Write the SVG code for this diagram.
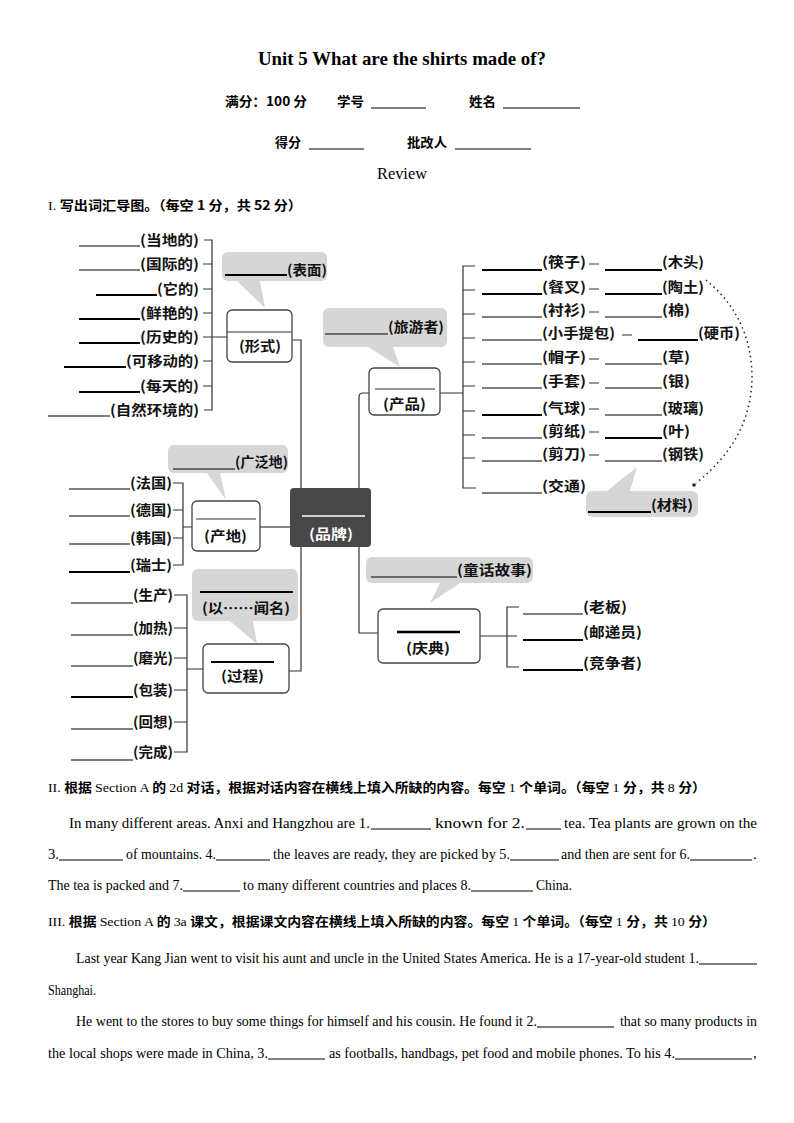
<svg xmlns="http://www.w3.org/2000/svg" width="794" height="1123" viewBox="0 0 794 1123">
<style>
.ser{font-family:"Liberation Serif","Noto Serif CJK SC",serif;font-weight:normal}
.cnb{font-family:"Noto Sans CJK SC","Liberation Sans",sans-serif;font-weight:bold}
.t{font-size:15px;fill:#000}
.h{font-size:13px;fill:#000}
.lb{font-family:"Noto Sans CJK SC","Liberation Sans",sans-serif;font-weight:bold;font-size:14px;fill:#111}
.ul{stroke:#000;stroke-width:1.2;fill:none}
.ulb{stroke:#000;stroke-width:1.8;fill:none}
.cn{stroke:#333;stroke-width:1.2;fill:none}
.box{fill:#fff;stroke:#444;stroke-width:1.3}
.bub{fill:#d6d6d6;stroke:none}
.dot{stroke:#222;stroke-width:1.5;fill:none;stroke-dasharray:1.5 3.5}
</style>

<g id="header">
<text x="258" y="65" class="ser" font-size="18" textLength="288" lengthAdjust="spacingAndGlyphs" style="font-weight:bold">Unit 5 What are the shirts made of?</text>
<text x="225" y="106" class="cnb h" textLength="82" lengthAdjust="spacingAndGlyphs">满分：100 分</text>
<text x="337" y="106" class="cnb h" textLength="27" lengthAdjust="spacingAndGlyphs">学号</text>
<line x1="371" y1="108" x2="426" y2="108" class="ul"/>
<text x="469" y="106" class="cnb h" textLength="27" lengthAdjust="spacingAndGlyphs">姓名</text>
<line x1="503" y1="108" x2="580" y2="108" class="ul"/>
<text x="275" y="147" class="cnb h" textLength="26" lengthAdjust="spacingAndGlyphs">得分</text>
<line x1="309" y1="149" x2="364" y2="149" class="ul"/>
<text x="407" y="147" class="cnb h" textLength="40" lengthAdjust="spacingAndGlyphs">批改人</text>
<line x1="455" y1="149" x2="531" y2="149" class="ul"/>
<text x="377" y="179" class="ser" font-size="16" textLength="50" lengthAdjust="spacingAndGlyphs">Review</text>
<text x="48" y="210" class="h" textLength="254" lengthAdjust="spacingAndGlyphs"><tspan class="ser">I. </tspan><tspan class="cnb">写出词汇导图。（每空 1 分，共 52 分）</tspan></text>
</g>

<g id="connectors">
<path class="cn" d="M204 240 H212 V410 H204"/>
<path class="cn" d="M203 264 H212 M203 289 H212 M203 313 H212 M203 337 H227 M203 361 H212 M203 386 H212"/>
<path class="cn" d="M292 340 H301 V489"/>
<path class="cn" d="M301 547 V671 H289"/>
<path class="cn" d="M359 489 V397 Q359 393 363 393 H369"/>
<path class="cn" d="M359 547 V633 H378"/>
<path class="cn" d="M260 527 H290"/>
<path class="cn" d="M173 483 H183 V565 H173 M173 510 H183 M173 538 H183 M183 527 H192"/>
<path class="cn" d="M174 595 H187 V752 H174 M174 628 H187 M174 658 H187 M174 690 H187 M174 722 H187 M187 669 H203"/>
<path class="cn" d="M440 393 H463 M475 266 H463 V488 H476 M463 290 H475 M463 314 H475 M463 338 H475 M463 362 H475 M463 386 H475 M463 411 H475 M463 435 H475 M463 458 H475"/>
<path class="cn" d="M589 264 H599 M589 289 H599 M589 312 H599 M622 335 H632 M589 359 H599 M589 383 H599 M589 409 H599 M589 432 H599 M589 455 H599"/>
<path class="cn" d="M480 636 H517 M519 607 H507 V667 H519"/>
<path class="dot" d="M706 280 Q752 318 752 378 Q751 440 696 483"/>
<circle cx="694" cy="485" r="1.8" fill="#222"/>
</g>

<g id="bubbles">
<g id="bub-biaomian">
<rect x="222" y="252" width="105" height="29" rx="6" class="bub"/>
<polygon points="237,281 260,281 265,308" class="bub"/>
<line x1="225" y1="275" x2="287" y2="275" class="ulb"/>
<text x="287" y="275" class="lb" textLength="40" lengthAdjust="spacingAndGlyphs">(表面)</text>
</g>
<g id="bub-lvyou">
<rect x="323" y="308" width="124" height="39" rx="6" class="bub"/>
<polygon points="368,347 393,347 400,367" class="bub"/>
<line x1="325" y1="334" x2="388" y2="334" class="ul"/>
<text x="388" y="332" class="lb" textLength="56" lengthAdjust="spacingAndGlyphs">(旅游者)</text>
</g>
<g id="bub-guangfan">
<rect x="168" y="445" width="120" height="28" rx="6" class="bub"/>
<polygon points="207,473 220,473 226,500" class="bub"/>
<line x1="173" y1="469" x2="235" y2="469" class="ul"/>
<text x="235" y="467" class="lb" textLength="53" lengthAdjust="spacingAndGlyphs">(广泛地)</text>
</g>
<g id="bub-wenming">
<rect x="192" y="569" width="106" height="52" rx="6" class="bub"/>
<polygon points="230,621 253,621 257,644" class="bub"/>
<line x1="200" y1="592" x2="293" y2="592" class="ulb"/>
<text x="202" y="613" class="lb" textLength="88" lengthAdjust="spacingAndGlyphs">(以……闻名)</text>
</g>
<g id="bub-tonghua">
<rect x="366" y="557" width="167" height="26" rx="6" class="bub"/>
<polygon points="440,583 460,583 430,603" class="bub"/>
<line x1="371" y1="577" x2="457" y2="577" class="ul"/>
<text x="457" y="575" class="lb" textLength="75" lengthAdjust="spacingAndGlyphs">(童话故事)</text>
</g>
<g id="bub-cailiao">
<rect x="586" y="491" width="112" height="26" rx="6" class="bub"/>
<polygon points="607,491 630,491 637,467" class="bub"/>
<line x1="588" y1="512" x2="651" y2="512" class="ulb"/>
<text x="651" y="510" class="lb" textLength="42" lengthAdjust="spacingAndGlyphs">(材料)</text>
</g>
</g>

<g id="node-xingshi">
<rect x="227" y="310" width="65" height="52" rx="5" class="box"/>
<line x1="227" y1="332" x2="292" y2="332" class="cn"/>
<text x="239" y="351" class="lb" textLength="42" lengthAdjust="spacingAndGlyphs">(形式)</text>
</g>
<g id="node-chanpin">
<rect x="369" y="368" width="71" height="47" rx="5" class="box"/>
<line x1="375" y1="389" x2="435" y2="389" class="cn"/>
<text x="383" y="409" class="lb" textLength="43" lengthAdjust="spacingAndGlyphs">(产品)</text>
</g>
<g id="node-pinpai">
<rect x="290" y="488" width="81" height="59" rx="4" fill="#474747"/>
<line x1="302" y1="516" x2="365" y2="516" stroke="#fff" stroke-width="1.3"/>
<text x="309" y="539" class="lb" style="fill:#fff" textLength="44" lengthAdjust="spacingAndGlyphs">(品牌)</text>
</g>
<g id="node-chandi">
<rect x="192" y="501" width="68" height="50" rx="5" class="box"/>
<line x1="196" y1="519" x2="256" y2="519" class="cn"/>
<text x="204" y="541" class="lb" textLength="43" lengthAdjust="spacingAndGlyphs">(产地)</text>
</g>
<g id="node-guocheng">
<rect x="203" y="644" width="86" height="49" rx="5" class="box"/>
<line x1="211" y1="662" x2="274" y2="662" stroke="#000" stroke-width="2"/>
<text x="221" y="681" class="lb" textLength="43" lengthAdjust="spacingAndGlyphs">(过程)</text>
</g>
<g id="node-qingdian">
<rect x="378" y="609" width="102" height="54" rx="5" class="box"/>
<line x1="397" y1="632" x2="460" y2="632" stroke="#000" stroke-width="2.5"/>
<text x="406" y="653" class="lb" textLength="44" lengthAdjust="spacingAndGlyphs">(庆典)</text>
</g>

<g id="list-adjectives">
<line x1="79" y1="246" x2="140" y2="246" class="ul"/><text x="140" y="245" class="lb" textLength="59" lengthAdjust="spacingAndGlyphs">(当地的)</text>
<line x1="79" y1="270" x2="140" y2="270" class="ul"/><text x="140" y="269" class="lb" textLength="59" lengthAdjust="spacingAndGlyphs">(国际的)</text>
<line x1="96" y1="295" x2="157" y2="295" class="ulb"/><text x="157" y="294" class="lb" textLength="42" lengthAdjust="spacingAndGlyphs">(它的)</text>
<line x1="79" y1="319" x2="140" y2="319" class="ulb"/><text x="140" y="318" class="lb" textLength="59" lengthAdjust="spacingAndGlyphs">(鲜艳的)</text>
<line x1="79" y1="343" x2="140" y2="343" class="ulb"/><text x="140" y="342" class="lb" textLength="59" lengthAdjust="spacingAndGlyphs">(历史的)</text>
<line x1="64" y1="367" x2="126" y2="367" class="ulb"/><text x="126" y="366" class="lb" textLength="73" lengthAdjust="spacingAndGlyphs">(可移动的)</text>
<line x1="79" y1="392" x2="140" y2="392" class="ulb"/><text x="140" y="391" class="lb" textLength="59" lengthAdjust="spacingAndGlyphs">(每天的)</text>
<line x1="48" y1="416" x2="110" y2="416" class="ul"/><text x="110" y="415" class="lb" textLength="89" lengthAdjust="spacingAndGlyphs">(自然环境的)</text>
</g>

<g id="list-countries">
<line x1="69" y1="489" x2="130" y2="489" class="ul"/><text x="130" y="488" class="lb" textLength="42" lengthAdjust="spacingAndGlyphs">(法国)</text>
<line x1="69" y1="516" x2="130" y2="516" class="ul"/><text x="130" y="515" class="lb" textLength="42" lengthAdjust="spacingAndGlyphs">(德国)</text>
<line x1="69" y1="544" x2="130" y2="544" class="ul"/><text x="130" y="543" class="lb" textLength="42" lengthAdjust="spacingAndGlyphs">(韩国)</text>
<line x1="69" y1="572" x2="130" y2="572" class="ulb"/><text x="130" y="570" class="lb" textLength="42" lengthAdjust="spacingAndGlyphs">(瑞士)</text>
</g>

<g id="list-process">
<line x1="71" y1="603" x2="133" y2="603" class="ul"/><text x="133" y="600" class="lb" textLength="40" lengthAdjust="spacingAndGlyphs">(生产)</text>
<line x1="71" y1="635" x2="133" y2="635" class="ul"/><text x="133" y="633" class="lb" textLength="40" lengthAdjust="spacingAndGlyphs">(加热)</text>
<line x1="71" y1="666" x2="133" y2="666" class="ul"/><text x="133" y="663" class="lb" textLength="40" lengthAdjust="spacingAndGlyphs">(磨光)</text>
<line x1="71" y1="697" x2="133" y2="697" class="ulb"/><text x="133" y="695" class="lb" textLength="40" lengthAdjust="spacingAndGlyphs">(包装)</text>
<line x1="71" y1="729" x2="133" y2="729" class="ul"/><text x="133" y="727" class="lb" textLength="40" lengthAdjust="spacingAndGlyphs">(回想)</text>
<line x1="71" y1="760" x2="133" y2="760" class="ul"/><text x="133" y="757" class="lb" textLength="40" lengthAdjust="spacingAndGlyphs">(完成)</text>
</g>

<g id="list-products">
<line x1="482" y1="270" x2="542" y2="270" class="ulb"/><text x="542" y="267" class="lb" textLength="44" lengthAdjust="spacingAndGlyphs">(筷子)</text>
<line x1="605" y1="270" x2="662" y2="270" class="ulb"/><text x="662" y="267" class="lb" textLength="42" lengthAdjust="spacingAndGlyphs">(木头)</text>
<line x1="482" y1="294" x2="542" y2="294" class="ulb"/><text x="542" y="292" class="lb" textLength="44" lengthAdjust="spacingAndGlyphs">(餐叉)</text>
<line x1="605" y1="294" x2="662" y2="294" class="ulb"/><text x="662" y="292" class="lb" textLength="42" lengthAdjust="spacingAndGlyphs">(陶土)</text>
<line x1="482" y1="317" x2="542" y2="317" class="ul"/><text x="542" y="315" class="lb" textLength="44" lengthAdjust="spacingAndGlyphs">(衬衫)</text>
<line x1="605" y1="317" x2="662" y2="317" class="ul"/><text x="662" y="315" class="lb" textLength="28" lengthAdjust="spacingAndGlyphs">(棉)</text>
<line x1="482" y1="340" x2="542" y2="340" class="ul"/><text x="542" y="338" class="lb" textLength="73" lengthAdjust="spacingAndGlyphs">(小手提包)</text>
<line x1="638" y1="340" x2="698" y2="340" class="ulb"/><text x="698" y="338" class="lb" textLength="42" lengthAdjust="spacingAndGlyphs">(硬币)</text>
<line x1="482" y1="364" x2="542" y2="364" class="ul"/><text x="542" y="362" class="lb" textLength="44" lengthAdjust="spacingAndGlyphs">(帽子)</text>
<line x1="605" y1="364" x2="662" y2="364" class="ul"/><text x="662" y="362" class="lb" textLength="28" lengthAdjust="spacingAndGlyphs">(草)</text>
<line x1="482" y1="388" x2="542" y2="388" class="ul"/><text x="542" y="386" class="lb" textLength="44" lengthAdjust="spacingAndGlyphs">(手套)</text>
<line x1="605" y1="388" x2="662" y2="388" class="ul"/><text x="662" y="386" class="lb" textLength="28" lengthAdjust="spacingAndGlyphs">(银)</text>
<line x1="482" y1="415" x2="542" y2="415" class="ulb"/><text x="542" y="413" class="lb" textLength="44" lengthAdjust="spacingAndGlyphs">(气球)</text>
<line x1="605" y1="415" x2="662" y2="415" class="ul"/><text x="662" y="413" class="lb" textLength="42" lengthAdjust="spacingAndGlyphs">(玻璃)</text>
<line x1="482" y1="438" x2="542" y2="438" class="ul"/><text x="542" y="436" class="lb" textLength="44" lengthAdjust="spacingAndGlyphs">(剪纸)</text>
<line x1="605" y1="438" x2="662" y2="438" class="ulb"/><text x="662" y="436" class="lb" textLength="28" lengthAdjust="spacingAndGlyphs">(叶)</text>
<line x1="482" y1="461" x2="542" y2="461" class="ul"/><text x="542" y="459" class="lb" textLength="44" lengthAdjust="spacingAndGlyphs">(剪刀)</text>
<line x1="605" y1="461" x2="662" y2="461" class="ul"/><text x="662" y="459" class="lb" textLength="42" lengthAdjust="spacingAndGlyphs">(钢铁)</text>
<line x1="482" y1="493" x2="542" y2="493" class="ul"/><text x="542" y="491" class="lb" textLength="44" lengthAdjust="spacingAndGlyphs">(交通)</text>
</g>

<g id="list-people">
<line x1="523" y1="614" x2="583" y2="614" class="ul"/><text x="583" y="612" class="lb" textLength="44" lengthAdjust="spacingAndGlyphs">(老板)</text>
<line x1="523" y1="640" x2="583" y2="640" class="ulb"/><text x="583" y="637" class="lb" textLength="59" lengthAdjust="spacingAndGlyphs">(邮递员)</text>
<line x1="523" y1="670" x2="583" y2="670" class="ulb"/><text x="583" y="668" class="lb" textLength="59" lengthAdjust="spacingAndGlyphs">(竞争者)</text>
</g>

<g id="section2">
<text x="48" y="792" class="h" textLength="658" lengthAdjust="spacingAndGlyphs"><tspan class="ser">II.  </tspan><tspan class="cnb">根据 </tspan><tspan class="ser">Section A </tspan><tspan class="cnb">的 </tspan><tspan class="ser">2d </tspan><tspan class="cnb">对话，根据对话内容在横线上填入所缺的内容。每空 </tspan><tspan class="ser">1 </tspan><tspan class="cnb">个单词。（每空 </tspan><tspan class="ser">1 </tspan><tspan class="cnb">分，共 </tspan><tspan class="ser">8 </tspan><tspan class="cnb">分）</tspan></text>
<g class="ser t">
<text x="69" y="828" textLength="301" lengthAdjust="spacingAndGlyphs">In many different areas. Anxi  and Hangzhou are 1.</text>
<text x="435" y="828" textLength="90" lengthAdjust="spacingAndGlyphs">known for 2.</text>
<text x="564" y="828" textLength="193" lengthAdjust="spacingAndGlyphs">tea. Tea plants are grown on the</text>
<text x="48" y="859" textLength="11" lengthAdjust="spacingAndGlyphs">3.</text>
<text x="126" y="859" textLength="90" lengthAdjust="spacingAndGlyphs">of mountains. 4.</text>
<text x="273" y="859" textLength="237" lengthAdjust="spacingAndGlyphs">the leaves are ready, they are picked by 5.</text>
<text x="561" y="859" textLength="129" lengthAdjust="spacingAndGlyphs">and then are sent for 6.</text>
<text x="753" y="859">.</text>
<text x="48" y="890" textLength="135" lengthAdjust="spacingAndGlyphs">The tea is packed and 7.</text>
<text x="243" y="890" textLength="228" lengthAdjust="spacingAndGlyphs">to many different countries and places 8.</text>
<text x="536" y="890" textLength="36" lengthAdjust="spacingAndGlyphs">China.</text>
</g>
<path class="ul" d="M371 829 H431 M526 829 H561 M59 860 H123 M216 860 H270 M510 860 H559 M690 860 H752 M183 891 H240 M471 891 H533"/>
</g>

<g id="section3">
<text x="48" y="926" class="h" textLength="668" lengthAdjust="spacingAndGlyphs"><tspan class="ser">III.  </tspan><tspan class="cnb">根据 </tspan><tspan class="ser">Section A </tspan><tspan class="cnb">的 </tspan><tspan class="ser">3a </tspan><tspan class="cnb">课文，根据课文内容在横线上填入所缺的内容。每空 </tspan><tspan class="ser">1 </tspan><tspan class="cnb">个单词。（每空 </tspan><tspan class="ser">1 </tspan><tspan class="cnb">分，共 </tspan><tspan class="ser">10 </tspan><tspan class="cnb">分）</tspan></text>
<g class="ser t">
<text x="76" y="963" textLength="623" lengthAdjust="spacingAndGlyphs">Last year Kang Jian went to visit his aunt and uncle in the United States America. He is a 17-year-old student 1.</text>
<text x="48" y="995" textLength="48" lengthAdjust="spacingAndGlyphs">Shanghai.</text>
<text x="76" y="1026" textLength="461" lengthAdjust="spacingAndGlyphs">He went to the stores to buy some things for himself and his cousin. He found it 2.</text>
<text x="620" y="1026" textLength="137" lengthAdjust="spacingAndGlyphs">that so many products in</text>
<text x="48" y="1058" textLength="220" lengthAdjust="spacingAndGlyphs">the local shops were made in China, 3.</text>
<text x="329" y="1058" textLength="346" lengthAdjust="spacingAndGlyphs">as footballs, handbags, pet food and mobile phones. To his 4.</text>
<text x="753" y="1058">,</text>
</g>
<path class="ul" d="M699 964 H757 M537 1027 H614 M268 1059 H325 M675 1059 H752"/>
</g>
</svg>
